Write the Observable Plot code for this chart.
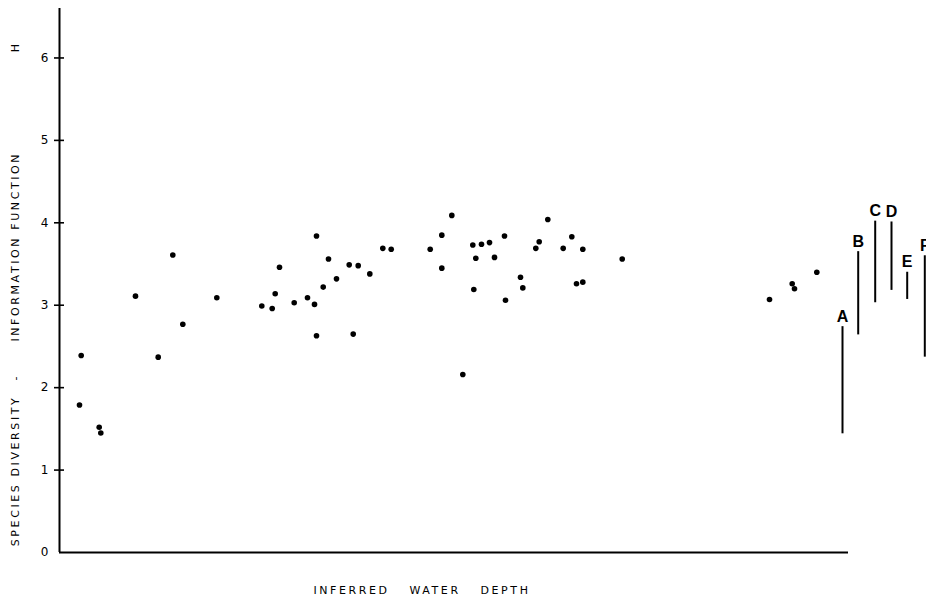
<!DOCTYPE html>
<html>
<head>
<meta charset="utf-8">
<script src="https://cdn.jsdelivr.net/npm/d3@7"></script>
<script src="https://cdn.jsdelivr.net/npm/@observablehq/plot@0.6"></script>
<style>
  body { margin: 0; background: #fff; }
  svg { display: block; }
</style>
</head>
<body>
<div id="chart"></div>
<script>
// Relative inferred water depth (arbitrary units, no scale given)
const depth = [21.7, 20, 39.7, 41.3, 76, 113.3, 98.7, 123.3, 157.3, 202.3, 212.7, 215.7, 220, 234.7, 248, 255, 257, 257, 263.7, 269, 277, 289.7, 298.7, 293.7, 310.3, 323.3, 331.7, 370.7, 382.3, 382.3, 392.3, 403.3, 413.3, 416.3, 422, 430, 435, 414.3, 445, 446, 461, 463.3, 476.3, 479.7, 488.3, 503.7, 512.3, 523.3, 517, 523.3, 562.7, 710, 732.7, 735, 757.3];
// Species diversity H
const diversity = [2.39, 1.79, 1.52, 1.45, 3.11, 3.61, 2.37, 2.77, 3.09, 2.99, 2.96, 3.14, 3.46, 3.03, 3.09, 3.01, 3.84, 2.63, 3.22, 3.56, 3.32, 3.49, 3.48, 2.65, 3.38, 3.69, 3.68, 3.68, 3.85, 3.45, 4.09, 2.16, 3.73, 3.57, 3.74, 3.76, 3.58, 3.19, 3.84, 3.06, 3.34, 3.21, 3.69, 3.77, 4.04, 3.69, 3.83, 3.68, 3.26, 3.28, 3.56, 3.07, 3.26, 3.20, 3.40];
// Range bars A–F
const rangeLabels = ["A", "B", "C", "D", "E", "F"];
const rangeDepth = [783, 798.7, 815.7, 832, 847.7, 865.3];
const rangeLow = [1.44, 2.64, 3.03, 3.18, 3.07, 2.37];
const rangeHigh = [2.74, 3.65, 4.02, 4.01, 3.40, 3.60];
const yTicks = [0, 1, 2, 3, 4, 5, 6];

const points = depth.map((d, i) => ({x: d, y: diversity[i]}));
const ranges = rangeLabels.map((l, i) => ({label: l, x: rangeDepth[i], lo: rangeLow[i], hi: rangeHigh[i]}));
const ticks = yTicks.map(v => ({v}));
const crossTicks = yTicks.filter(v => v > 0);
const axisEnd = 789;

const font = "'DejaVu Sans', 'Liberation Sans', sans-serif";

const chart = Plot.plot({
  width: 926,
  height: 599,
  marginLeft: 59,
  marginRight: 0,
  marginTop: 8,
  marginBottom: 47,
  style: {fontFamily: font, background: "#fff", color: "#000"},
  x: {domain: [0, 867], axis: null},
  y: {domain: [0, 6.6], axis: null},
  marks: [
    // axes lines
    Plot.ruleX([0], {y1: 0, y2: 6.6, stroke: "#000", strokeWidth: 2}),
    Plot.ruleY([0], {x1: 0, x2: axisEnd, stroke: "#000", strokeWidth: 2}),
    // tick crosses (outer half and inner half)
    Plot.axisY(crossTicks, {anchor: "left", tickSize: 5, tickFormat: () => "", strokeWidth: 1.6, stroke: "#000"}),
    Plot.axisY(crossTicks, {anchor: "left", tickSize: -5, tickFormat: () => "", strokeWidth: 1.6, stroke: "#000"}),
    Plot.text(ticks, {y: "v", x: 0, text: d => String(d.v), dx: -15, textAnchor: "middle", fontSize: 12, fill: "#000"}),
    // y label
    Plot.text(["SPECIES DIVERSITY"], {x: -44, y: 0.99, text: d => d, rotate: -90, fontSize: 11, fill: "#000"}),
    Plot.text(["-"], {x: -44, y: 2.11, text: d => d, rotate: -90, fontSize: 11, fill: "#000"}),
    Plot.text(["INFORMATION FUNCTION"], {x: -44, y: 3.71, text: d => d, rotate: -90, fontSize: 11, fill: "#000"}),
    Plot.text(["H"], {x: -44, y: 6.12, text: d => d, rotate: -90, fontSize: 11, fill: "#000"}),
    // x label
    Plot.text(["INFERRED"], {x: 292, y: 0, dy: 38, text: d => d, fontSize: 11, fill: "#000"}),
    Plot.text(["WATER"], {x: 375.5, y: 0, dy: 38, text: d => d, fontSize: 11, fill: "#000"}),
    Plot.text(["DEPTH"], {x: 446, y: 0, dy: 38, text: d => d, fontSize: 11, fill: "#000"}),
    // data points
    Plot.dot(points, {x: "x", y: "y", r: 2.8, fill: "#000", stroke: "none"}),
    // range bars
    Plot.ruleX(ranges, {x: "x", y1: "lo", y2: "hi", stroke: "#000", strokeWidth: 2}),
    Plot.text(ranges, {x: "x", y: "hi", text: "label", dy: -10, fontSize: 16, fontWeight: "bold", fill: "#000", fontFamily: "'Liberation Sans', Arial, sans-serif"})
  ]
});
// letter-spacing for the spaced-out axis titles
d3.select(chart).selectAll("text").each(function() {
  const t = this.textContent;
  if (t.length > 1) this.setAttribute("letter-spacing", "2.6px");
});
document.getElementById("chart").appendChild(chart);
</script>
</body>
</html>
